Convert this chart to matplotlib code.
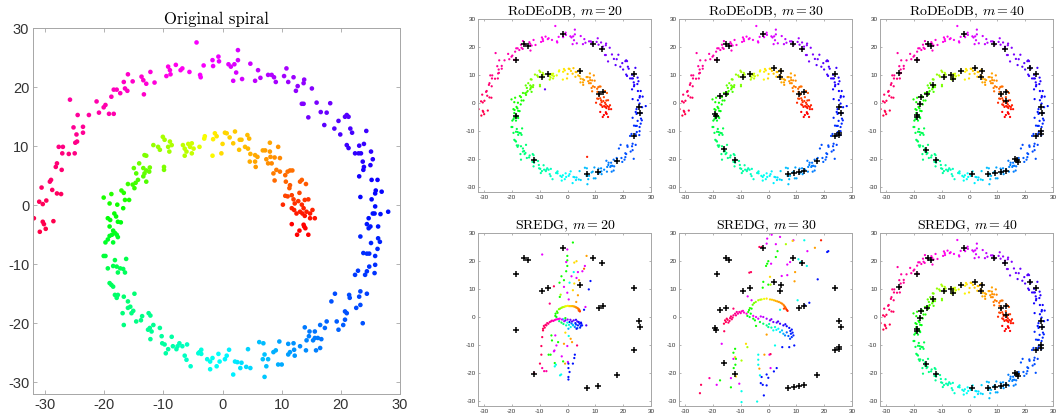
import numpy as np
import matplotlib
matplotlib.use("Agg")
import matplotlib.pyplot as plt

plt.rcParams["axes.unicode_minus"] = False
plt.rcParams["mathtext.fontset"] = "cm"
plt.rcParams["font.family"] = ["Liberation Sans", "DejaVu Sans"]

# ---- original spiral (x, y) ----
spiral = np.array([
    # outer arm, red
    (-31.9,-2.2),(-30.9,-4.5),(-31.0,0.6),(-30.4,0.2),(-30.6,3.0),(-29.8,0.8),(-30.4,-2.8),(-30.2,-3.2),
    (-29.9,-4.0),(-28.6,-2.7),(-29.2,4.0),(-29.0,4.3),(-28.8,2.6),(-28.0,2.0),(-27.3,1.9),(-28.2,6.5),
    (-28.0,7.1),(-27.2,6.0),(-27.7,9.9),(-27.0,9.9),(-27.1,8.8),(-26.0,8.7),(-25.0,8.8),(-25.2,13.2),
    (-24.7,12.0),(-24.9,10.6),(-24.6,10.8),(-24.5,15.3),(-23.6,13.3),(-23.6,12.3),(-25.8,17.9),(-22.6,15.3),
    # pink / magenta
    (-21.3,17.6),(-20.9,15.7),(-20.1,16.6),(-19.8,17.0),(-19.2,15.5),(-18.4,15.5),(-18.8,18.4),(-18.4,19.6),
    (-17.9,19.6),(-17.3,19.0),(-16.5,19.8),(-16.1,19.4),(-16.7,20.9),(-16.0,22.2),(-15.2,21.0),(-13.7,21.8),
    (-13.4,21.2),(-13.3,18.8),(-12.9,20.6),(-12.2,22.6),(-11.5,20.8),(-9.2,23.5),(-8.9,22.9),(-9.5,21.9),
    (-8.8,22.2),(-7.9,23.8),(-7.1,22.9),(-6.8,23.2),(-5.6,22.6),(-4.4,27.6),(-3.8,22.1),(-3.7,21.7),
    (-3.2,23.7),(-1.7,24.6),(-1.6,23.6),(-0.7,25.2),(-0.6,24.4),(1.0,23.9),(1.4,23.5),(2.0,23.9),
    (2.6,26.3),(2.6,24.6),(2.3,22.5),(1.8,21.1),(3.3,21.4),(4.7,24.0),
    # purple
    (6.0,22.9),(5.5,21.1),(6.4,21.6),(7.7,22.1),(8.3,22.1),(8.7,21.7),(9.0,20.9),(10.4,21.9),
    (10.8,23.2),(11.1,20.9),(12.0,21.7),(12.7,20.2),(12.4,19.4),(13.8,21.3),(13.7,20.7),(15.1,19.8),
    (15.9,17.4),(13.4,17.2),(13.7,17.2),(14.5,14.9),(16.6,15.8),(17.6,15.7),(18.2,17.3),(17.2,13.6),
    (18.9,13.0),(19.6,14.3),(21.0,15.3),(20.7,15.0),(21.3,15.0),(19.9,12.0),(21.6,13.0),(21.9,12.3),
    (24.3,12.6),(21.0,10.2),(21.3,9.7),(23.1,10.1),(23.9,10.4),(22.4,8.8),(23.0,8.8),(23.4,8.8),
    (25.1,9.1),(25.4,7.8),(23.7,7.4),(23.9,6.5),(23.8,6.0),(25.0,6.8),(23.1,4.9),
    # blue
    (25.2,4.3),(26.2,4.3),(26.9,2.3),(25.9,2.5),(25.8,2.0),(23.3,1.4),(25.2,1.0),(25.8,-0.2),
    (28.0,-1.1),(24.7,-2.2),(25.4,-1.4),(25.7,-1.4),(26.7,-1.5),(24.4,-3.2),(24.7,-3.9),(26.3,-3.6),
    (25.0,-3.6),(23.3,-5.3),(26.3,-5.6),(26.6,-6.2),(25.1,-6.4),(26.2,-7.4),(23.8,-8.1),(24.8,-8.2),
    (24.4,-8.2),(25.8,-8.6),(25.8,-10.1),(24.8,-10.4),(22.9,-11.1),(22.4,-11.8),(24.1,-11.8),(25.7,-11.5),
    (24.4,-11.2),(23.3,-14.6),(24.4,-15.0),(21.4,-15.2),(21.5,-15.7),(23.1,-15.5),(19.0,-15.0),(18.4,-16.3),
    (23.3,-16.9),(22.6,-17.4),(20.7,-18.0),(21.0,-18.3),(20.7,-19.4),(19.3,-19.7),(19.6,-21.1),(20.4,-20.3),
    (23.7,-20.0),(17.6,-19.7),(17.3,-20.8),(16.5,-20.3),(15.6,-21.4),
    # light blue
    (13.9,-20.7),(14.7,-21.4),(14.6,-22.2),(15.6,-22.5),(16.1,-22.5),(16.7,-22.7),(15.3,-22.9),(14.2,-22.9),
    (15.8,-24.6),(16.5,-24.2),(14.1,-24.6),(13.1,-23.9),(12.0,-23.4),(11.1,-23.5),(12.1,-24.5),(11.4,-24.9),
    (12.2,-25.5),(11.1,-25.3),(9.6,-23.1),(9.0,-24.6),(8.6,-24.9),(9.4,-27.0),(10.0,-27.0),(6.9,-23.4),
    (6.2,-23.2),(7.1,-25.3),(7.7,-26.1),(6.8,-26.1),(7.4,-27.3),(7.1,-29.1),(4.3,-24.4),
    # cyan
    (4.7,-27.6),(4.0,-27.4),(3.2,-26.7),(3.0,-27.6),(2.5,-26.6),(2.1,-26.5),(1.8,-28.7),(1.1,-24.5),
    (0.7,-25.5),(0.4,-26.1),(-0.7,-25.2),(-0.5,-26.5),(-1.0,-27.3),(-1.7,-25.9),(-2.1,-26.5),(-2.1,-27.8),
    (-2.6,-26.1),(-3.6,-24.5),(-3.9,-24.9),(-4.1,-25.1),(-3.6,-25.2),(-5.4,-27.3),(-6.1,-26.2),(-6.4,-25.5),
    (-6.0,-23.6),(-6.8,-23.9),(-7.3,-23.4),(-7.6,-23.9),(-7.8,-24.4),(-8.4,-23.9),(-9.2,-24.4),(-9.6,-25.1),
    (-8.6,-22.3),(-9.8,-23.6),(-10.2,-23.4),(-10.3,-22.2),(-10.6,-20.8),
    # green-cyan
    (-12.2,-22.7),(-12.0,-21.4),(-12.6,-21.1),(-12.3,-20.8),(-11.7,-20.3),(-12.5,-18.3),(-12.2,-18.7),(-13.6,-18.8),
    (-13.8,-19.5),(-14.6,-19.7),(-14.9,-15.0),(-15.1,-17.9),(-15.4,-18.3),(-15.6,-17.2),(-16.0,-17.4),(-16.0,-16.3),
    (-16.7,-20.3),(-16.9,-18.3),(-16.7,-15.5),(-17.9,-15.7),(-17.7,-15.2),(-18.2,-15.2),(-18.5,-13.8),(-19.1,-13.2),
    (-18.8,-13.5),(-17.7,-11.4),(-16.5,-11.4),(-16.3,-9.1),(-16.8,-10.8),(-17.3,-10.7),(-17.9,-10.4),(-18.2,-9.3),
    (-18.5,-10.3),(-19.4,-10.7),(-19.8,-8.6),(-20.1,-8.6),
    # green
    (-19.8,-6.3),(-19.4,-5.8),(-19.1,-5.2),(-18.7,-5.0),(-18.5,-4.3),(-18.2,-4.7),(-17.9,-5.0),(-17.7,-5.4),
    (-19.1,-3.6),(-18.5,-6.3),(-19.4,-2.2),(-19.0,-2.5),(-18.3,-1.4),(-18.0,-1.9),(-17.7,-2.8),(-17.2,-2.9),
    (-20.1,1.3),(-19.1,0.3),(-18.8,1.9),(-17.8,0.1),(-16.8,-0.5),(-17.1,2.5),(-16.7,2.1),(-16.5,0.9),
    (-15.8,0.9),(-16.0,3.6),(-15.2,3.5),(-14.9,2.9),(-14.7,3.8),(-14.3,4.3),(-15.0,6.3),(-14.6,5.4),
    (-14.1,7.1),(-13.4,4.9),(-12.9,4.0),(-13.2,5.4),(-13.4,6.3),(-12.9,5.9),(-12.3,6.4),(-12.4,5.7),
    (-13.2,8.5),(-12.9,8.4),
    # yellow-green
    (-11.7,10.2),(-10.9,9.9),(-10.6,9.4),(-10.1,11.6),(-9.8,11.1),(-9.9,6.5),(-9.9,6.0),(-9.2,9.9),
    (-9.0,9.1),(-8.9,10.8),(-8.6,10.2),(-6.7,10.2),(-6.4,9.6),(-6.1,9.1),(-6.4,8.4),(-5.8,10.4),
    (-5.5,9.9),(-5.2,10.5),(-5.2,8.8),(-4.9,9.6),(-3.9,9.9),(-3.1,11.3),(-3.0,11.7),(-1.7,8.4),
    (-1.3,12.2),(-1.0,11.7),(-1.6,11.2),(0.0,10.4),
    # yellow
    (-0.2,8.8),(0.4,12.3),(0.7,12.2),(1.2,11.5),(1.8,10.5),(2.1,12.5),(2.8,9.4),(2.9,11.1),
    (3.2,11.1),(3.8,9.9),
    # orange
    (4.2,11.9),(4.5,11.3),(4.3,9.6),(4.7,8.7),(5.5,8.5),(5.9,8.2),(4.6,7.4),(5.5,7.4),
    (5.6,6.5),(6.8,9.3),(7.2,9.3),(8.0,10.6),(8.1,8.2),(8.0,9.1),(9.4,9.9),(7.4,7.8),
    (7.7,7.1),(8.3,7.1),(8.8,8.1),(9.7,8.0),(8.6,5.4),(9.1,6.0),(8.8,4.2),(9.7,5.7),
    # orange-red
    (10.6,5.1),(11.0,5.7),(11.4,5.9),(11.8,5.9),(10.7,4.0),(11.4,3.4),(11.3,2.9),(10.6,1.6),
    (11.0,1.5),(11.7,1.7),(12.0,1.0),(13.0,2.1),(13.1,4.0),(13.4,4.3),(14.1,3.6),(12.2,0.3),
    (12.8,0.7),(13.4,0.1),(13.9,0.9),(14.5,1.0),(10.2,0.1),
    # red, inner end
    (11.7,-0.5),(12.1,-0.8),(12.5,-1.4),(13.1,-1.1),(13.7,-0.5),(13.5,-1.4),(13.9,-1.8),(14.2,-1.1),
    (14.8,-1.4),(15.2,-0.8),(14.8,-2.2),(15.6,-2.2),(11.7,-3.2),(13.0,-4.3),(12.6,-5.0),(13.7,-3.3),
    (13.8,-3.6),(14.0,-3.9),(14.5,-5.0),
])

# two stray points in the RoDEoDB m = 20 embedding (x, y, spiral position in degrees)
rodeodb20_extra = np.array([(7.0, -19.3, 555), (-8.1, 4.9, 150)])

# landmarks (black crosses)
landmarks20 = np.array([
    (-1.8,24.6),(-15.5,21.1),(-14.3,20.6),(9.0,21.0),(12.4,19.2),(-18.5,15.4),(23.9,10.3),(-9.2,9.4),
    (-6.9,10.3),(4.4,11.5),(11.3,3.1),(12.8,3.8),(25.6,-1.3),(26.1,-3.7),(-18.6,-4.6),(23.9,-11.9),
    (-11.9,-20.5),(17.6,-20.7),(6.8,-25.5),(11.0,-24.8),
])
landmarks30 = np.array([
    (-1.9,24.6),(8.9,21.0),(12.1,19.2),(1.9,12.4),(4.3,11.5),(4.1,9.3),(-6.7,10.3),(-9.3,9.4),
    (11.0,3.1),(12.8,3.8),(23.8,10.3),(25.4,-1.3),(25.9,-3.7),(25.4,-10.6),(25.2,-11.5),(23.8,-11.9),
    (17.5,-20.7),(12.8,-24.3),(11.0,-24.9),(9.1,-25.2),(6.8,-25.6),(-15.4,21.1),(-14.1,20.6),(-18.6,15.4),
    (-17.4,2.6),(-15.4,3.2),(-18.9,-4.6),(-19.1,-4.0),(-16.0,-16.6),(-12.0,-20.5),
])
landmarks40 = np.array([
    (-1.9,24.6),(-15.0,21.1),(-14.0,20.6),(-18.7,15.4),(-25.2,10.6),(8.9,21.0),(12.6,19.2),(21.7,12.4),
    (23.8,10.3),(1.9,12.4),(4.3,11.5),(4.1,9.3),(-3.1,11.6),(-6.8,10.1),(-5.8,8.5),(-9.2,9.4),
    (-13.2,6.3),(-15.4,3.2),(-17.4,2.3),(-17.8,-0.3),(-18.7,-4.2),(-19.0,-4.9),(11.3,3.1),(12.9,3.8),
    (12.9,0.7),(25.5,-1.3),(26.1,-3.7),(25.5,-9.9),(25.5,-11.1),(23.8,-11.9),(16.9,-20.5),(17.5,-21.1),
    (16.4,-19.9),(-15.7,-16.9),(-12.0,-20.5),(0.7,-25.5),(6.7,-25.6),(9.1,-25.1),(11.3,-24.9),(12.9,-24.3),
])

# SREDG embeddings: (x, y, position along the spiral in degrees)
sredg20 = np.array([
    (1.9,26.7,370),(-9.1,22.4,100),(-0.1,24.2,100),(-0.1,21.9,370),(-0.1,20.3,370),(6.8,21.9,500),
    (2.4,19.5,460),(3.2,20.0,460),(-0.5,19.7,100),(6.2,18.3,100),(5.9,17.3,530),(5.3,16.4,100),
    (-0.1,18.3,370),(-0.5,16.4,370),(2.2,16.1,285),(3.7,16.1,100),(8.2,12.9,195),(4.1,13.2,500),
    (3.2,14.0,100),(1.4,14.6,100),(-2.2,14.6,370),(-1.3,13.2,370),(0.7,12.3,285),(2.4,12.0,460),
    (-1.3,10.8,100),(-2.9,12.3,370),(-4.9,11.0,10),(7.6,9.9,195),(1.9,9.6,460),(-0.1,8.7,100),
    (-2.5,8.0,420),(-2.8,7.2,370),(3.7,7.8,500),(0.4,6.3,100),(3.1,5.4,500),(-6.4,4.8,30),
    (6.4,3.6,100),(5.9,2.6,195),
    (-4.4,0.4,370),(-4.3,1.2,370),(-3.8,2.0,385),(-3.1,2.8,400),(-2.2,3.3,415),(-1.3,3.6,430),
    (-0.5,3.9,445),(0.5,3.9,460),(1.3,3.9,475),(2.2,3.8,490),(2.9,3.5,505),(3.5,3.2,515),
    (4.0,2.8,525),(4.3,2.4,540),(-4.0,0.0,360),(-3.6,1.5,380),(-2.7,3.0,405),(-1.8,3.5,420),
    (-0.9,3.8,438),(0.1,4.0,452),(0.9,3.9,468),(1.8,3.9,482),(2.6,3.7,498),(3.2,3.4,510),
    (3.8,3.0,520),(4.4,2.0,548),(4.0,2.3,535),
    (-8.8,-4.8,5),(-8.8,-4.2,10),(-8.5,-3.2,15),(-7.9,-2.8,20),(-7.3,-2.2,25),(-6.4,-1.8,35),
    (-5.6,-1.3,45),(-4.6,-1.1,60),(-3.7,-0.8,75),(-2.8,-0.6,90),(-8.2,-3.8,12),(-7.6,-3.0,18),
    (-6.9,-2.4,28),(-6.0,-1.6,40),(-5.1,-1.4,52),(-4.2,-0.9,68),(-3.2,-0.7,82),
    (-1.6,-0.8,285),(-0.8,-1.2,150),(-0.1,-2.0,285),(0.7,-1.8,195),(1.6,-1.6,150),(1.9,-2.8,285),
    (2.8,-2.2,195),(3.5,-1.6,160),(3.7,-3.0,200),(4.3,-2.4,195),(4.7,-3.2,210),(2.6,-3.6,250),
    (1.1,-3.6,285),(-0.8,-0.4,370),(-2.2,-2.0,340),(0.3,-4.2,260),(4.9,-2.4,190),(5.2,-3.0,200),
    (6.7,-3.0,160),(-1.2,-1.5,120),(-2.0,-0.9,110),(0.0,-0.9,130),(1.0,-1.0,140),(2.2,-1.2,150),
    (3.0,-1.0,165),(4.0,-1.8,180),(4.5,-3.8,205),(3.5,-4.0,230),(2.0,-3.0,260),(0.5,-2.8,290),
    (-0.5,-3.0,300),(-1.5,-2.5,320),(-3.0,-1.5,330),(1.4,-2.3,240),(3.0,-2.7,220),(4.8,-2.0,185),
    (-9.1,-7.2,10),(-9.4,-10.4,10),(-5.8,-6.6,370),(-4.4,-6.6,100),(-5.6,-8.4,370),(-3.4,-9.0,370),
    (-4.0,-10.2,100),(-0.8,-5.6,460),(0.4,-6.8,285),(1.1,-7.8,500),(1.6,-9.0,500),(-1.3,-9.6,500),
    (-0.1,-10.4,100),(3.4,-10.2,20),(3.2,-4.2,195),(-9.4,-13.5,10),(-6.8,-13.5,370),(-6.1,-13.5,370),
    (-4.9,-12.3,100),(-4.7,-12.0,100),(-2.1,-14.1,100),(2.6,-13.5,195),(2.4,-14.7,195),(-9.9,-16.7,10),
    (-9.1,-18.3,45),(-8.4,-19.4,45),(-7.6,-19.4,45),(-4.6,-16.5,370),(-4.2,-17.1,285),(-4.6,-17.7,285),
    (-1.6,-15.9,370),(0.1,-16.1,100),(0.3,-16.7,195),(1.9,-16.7,195),(-0.9,-16.7,500),(0.3,-18.3,195),
    (0.7,-19.7,195),(0.3,-21.5,195),(0.3,-22.4,195),(-2.3,-20.6,285),(-2.7,-20.9,285),(-12.0,-20.1,10),
])
sredg30 = np.array([
    (1.1,29.5,100),(4.1,28.7,100),(-0.5,28.1,100),(-3.3,25.1,10),(-2.5,25.1,10),(-0.7,26.3,100),
    (2.6,26.1,100),(3.2,23.6,370),(6.2,26.1,420),(8.9,27.5,100),(8.6,27.3,460),(12.8,27.5,285),
    (18.8,27.5,555),(16.6,24.8,500),(13.9,23.6,100),(21.4,23.6,195),(21.0,23.3,195),(2.6,21.5,370),
    (-0.1,20.0,370),(-0.5,19.1,370),(-0.9,18.3,370),(0.9,19.1,100),(6.7,18.8,100),(7.7,19.7,100),
    (10.7,20.7,285),(11.5,19.7,285),(13.7,18.3,285),(9.5,16.1,500),(17.6,13.5,195),(9.3,12.8,500),
    (6.7,15.0,100),(4.7,14.7,100),(0.5,14.4,460),(-1.9,12.6,370),(-0.1,11.6,370),(0.7,11.6,420),
    (-2.1,10.5,370),(-6.3,16.1,10),(-6.9,15.9,10),(-7.5,7.4,100),(-6.1,6.0,100),(10.4,6.0,285),
    (14.6,5.1,195),(13.0,4.2,195),(4.1,2.6,285),
    (-7.6,0.4,365),(-7.3,1.8,375),(-6.7,3.2,385),(-5.7,4.4,395),(-4.6,5.4,410),(-3.7,6.0,420),
    (-2.5,6.3,435),(-0.7,6.6,455),(0.5,6.3,465),(1.9,6.0,480),(3.1,5.6,495),(4.3,5.1,505),
    (5.3,4.4,515),(5.9,3.6,525),(6.2,3.0,535),(6.5,2.6,550),(-6.1,3.0,370),(-7.0,2.5,370),
    (-6.4,1.2,360),(-5.2,5.0,400),(-3.0,6.2,428),(-1.6,6.5,445),(1.2,6.2,472),(2.5,5.8,488),
    (3.7,5.4,500),(4.8,4.8,510),(5.6,4.0,520),(6.0,3.3,530),(6.8,2.2,555),(5.5,3.0,540),
    (-6.8,0.0,350),
    (-16.0,-2.4,5),(-15.6,-1.2,8),(-15.0,-0.6,12),(-14.4,-2.0,15),(-13.8,-0.4,18),(-13.2,-0.8,22),
    (-12.6,0.6,28),(-12.0,1.2,34),(-11.4,1.8,40),(-10.5,1.8,48),(-9.7,2.0,56),(-8.8,1.6,65),
    (-7.9,1.2,75),(-15.9,-5.1,10),(-12.6,3.0,20),(-15.3,-1.8,10),(-14.7,-1.0,14),(-14.0,-1.4,16),
    (-13.5,0.2,20),(-12.9,-0.2,25),(-11.7,0.6,36),(-11.0,1.2,44),(-10.0,1.4,52),(-9.2,2.2,60),
    (-5.5,0.4,85),(-4.5,0.0,95),(-3.7,-0.6,105),(-1.9,0.0,115),(-0.7,-0.6,125),(0.5,-1.2,135),
    (1.7,-1.8,145),(2.9,-2.0,155),(4.1,-2.4,165),(5.3,-3.0,175),(6.5,-3.3,185),(7.4,-3.9,190),
    (8.3,-4.5,195),(8.6,-5.6,200),(8.9,-6.6,205),(8.3,-7.2,215),(7.1,-6.8,235),(5.9,-6.6,250),
    (7.7,-7.8,225),(3.5,-4.2,280),(2.3,-3.6,290),(4.1,-5.4,270),(5.3,-6.0,260),(1.7,-4.8,285),
    (-0.7,-3.0,320),(-0.1,-3.6,310),(-5.5,-0.6,370),(-4.9,-1.2,360),(-0.7,-6.3,500),(-1.9,-2.4,330),
    (-4.5,-3.2,370),(-3.1,-1.8,350),(-2.8,0.2,110),(1.0,-0.8,140),(3.4,-1.6,160),(6.0,-2.6,180),
    (7.8,-5.0,198),(8.0,-6.0,205),(6.5,-5.5,240),(4.8,-4.8,265),(2.8,-4.6,280),(1.0,-3.8,300),
    (0.2,-2.5,305),
    (4.9,-10.8,195),(7.4,-10.8,195),(9.2,-10.2,195),(2.3,-10.2,285),
    (-16.8,-9.6,100),(-12.0,-11.4,370),(-12.6,-12.8,370),(-12.0,-14.4,460),(-12.6,-15.0,100),
    (-11.7,-15.0,370),(-11.9,-17.1,370),(-12.5,-18.3,370),(-9.7,-15.6,420),(-7.6,-10.8,420),
    (-8.1,-9.6,460),(-13.5,-21.9,100),(-11.7,-21.3,460),(-10.5,-23.9,100),(-9.7,-26.6,285),
    (-9.7,-30.5,285),(-4.1,-30.3,285),(-17.4,-22.7,370),(-18.6,-24.3,100),(-24.2,-24.3,10),
    (-24.6,-27.3,10),(-21.2,-21.9,45),(-13.5,-25.2,370),(-3.7,-13.5,285),(-3.7,-15.3,285),
    (-3.7,-17.1,285),(-3.3,-18.5,500),(-3.1,-20.9,285),(-2.8,-23.7,195),(-2.1,-24.3,195),
    (-1.7,-28.1,195),(-1.5,-13.5,500),(0.3,-13.5,100),(0.7,-13.3,10),(0.7,-18.3,100),
    (2.9,-18.3,195),(-0.7,-20.6,195),(-0.1,-21.8,195),(1.9,-19.5,195),(-0.7,-24.5,195),
    (-2.5,-21.5,195),
])

ticks = [-30, -20, -10, 0, 10, 20, 30]
W, H = 1057, 418


def spiral_position(pts):
    # angle travelled clockwise from the outer end, second turn when close to the centre
    x, y = pts[:, 0], pts[:, 1]
    pos = np.mod(190 - np.degrees(np.arctan2(y, x)), 360)
    inner = np.hypot(x, y) < 21 - pos / 60
    return pos + 360 * inner


def colours(pos):
    hue = np.interp(pos,
                    [0, 100, 190, 233, 253, 280, 300, 330, 370, 395, 429, 460, 497, 535, 565],
                    [0.97, 0.83, 0.67, 0.62, 0.58, 0.51, 0.45, 0.41, 0.33, 0.27, 0.21, 0.145,
                     0.11, 0.06, 0.0])
    return plt.cm.hsv(hue)


def panel(rect_px, small=True):
    l, t, w, h = rect_px
    ax = fig.add_axes([l / W, 1 - (t + h) / H, w / W, h / H])
    ax.set_xlim(-32, 30)
    ax.set_ylim(-32, 30)
    ax.set_xticks(ticks)
    ax.set_yticks(ticks)
    for s in ax.spines.values():
        s.set_color("#a6a6a6")
        s.set_linewidth(0.7)
    ax.tick_params(direction="in", top=True, right=True, color="#a6a6a6",
                   labelcolor="#333333", width=0.6,
                   length=1.3 if small else 3,
                   labelsize=4.6 if small else 10.5, pad=2 if small else 3)
    return ax


fig = plt.figure(figsize=(W / 100, H / 100), dpi=100)
spiral_col = colours(spiral_position(spiral))

ax = panel((33.3, 28.3, 366.7, 365.7), small=False)
ax.scatter(spiral[:, 0], spiral[:, 1], s=11, c=spiral_col, linewidths=0)
ax.set_title("Original spiral", fontfamily="cmr10", fontsize=12, pad=3)

cols = [478.3, 679.3, 880.3]
rows = [19.3, 233.3]
size = 173

panels = [
    (0, 0, "RoDEoDB", 20, None, landmarks20),
    (0, 1, "RoDEoDB", 30, None, landmarks30),
    (0, 2, "RoDEoDB", 40, None, landmarks40),
    (1, 0, "SREDG", 20, sredg20, landmarks20),
    (1, 1, "SREDG", 30, sredg30, landmarks30),
    (1, 2, "SREDG", 40, None, landmarks40),
]

for r, c, name, m, emb, lm in panels:
    ax = panel((cols[c], rows[r], size, size))
    if emb is None:
        ax.scatter(spiral[:, 0], spiral[:, 1], s=2.6, c=spiral_col, linewidths=0)
        if name == "RoDEoDB" and m == 20:
            ax.scatter(rodeodb20_extra[:, 0], rodeodb20_extra[:, 1], s=2.6,
                       c=colours(rodeodb20_extra[:, 2]), linewidths=0)
    else:
        ax.scatter(emb[:, 0], emb[:, 1], s=2.6, c=colours(emb[:, 2]), linewidths=0)
    ax.scatter(lm[:, 0], lm[:, 1], marker="+", c="k", s=16, linewidths=1.1, zorder=3)
    ax.set_title(name + ", $m = %d$" % m, fontfamily="cmr10", fontsize=10, pad=2.5)

fig.savefig("out.png", dpi=100)
